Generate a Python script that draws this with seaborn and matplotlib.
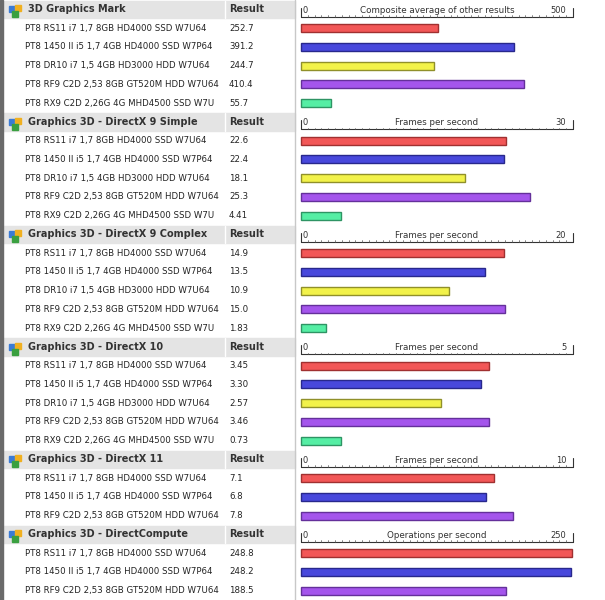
import numpy as np
import pandas as pd
import matplotlib
matplotlib.use("Agg")
import matplotlib.pyplot as plt
import seaborn as sns
from matplotlib.patches import Rectangle

sns.set_theme(style="white")
plt.rcParams["font.family"] = ["DejaVu Sans"]

sections = ["3D Graphics Mark", "Graphics 3D - DirectX 9 Simple", "Graphics 3D - DirectX 9 Complex",
            "Graphics 3D - DirectX 10", "Graphics 3D - DirectX 11", "Graphics 3D - DirectCompute"]
units = ["Composite average of other results", "Frames per second", "Frames per second",
         "Frames per second", "Frames per second", "Operations per second"]
axis_max = [500, 30, 20, 5, 10, 250]

machines = ["PT8 RS11 i7 1,7 8GB HD4000 SSD W7U64",
            "PT8 1450 II i5 1,7 4GB HD4000 SSD W7P64",
            "PT8 DR10 i7 1,5 4GB HD3000 HDD W7U64",
            "PT8 RF9 C2D 2,53 8GB GT520M HDD W7U64",
            "PT8 RX9 C2D 2,26G 4G MHD4500 SSD W7U"]
machine_colors = ["#f25757", "#4848dc", "#f2f24a", "#a455ec", "#55eea4"]
machine_edges = ["#a03030", "#28288c", "#90902a", "#64309a", "#2e9464"]

members = [[0, 1, 2, 3, 4], [0, 1, 2, 3, 4], [0, 1, 2, 3, 4], [0, 1, 2, 3, 4], [0, 1, 3], [0, 1, 3]]
results = [["252.7", "391.2", "244.7", "410.4", "55.7"],
           ["22.6", "22.4", "18.1", "25.3", "4.41"],
           ["14.9", "13.5", "10.9", "15.0", "1.83"],
           ["3.45", "3.30", "2.57", "3.46", "0.73"],
           ["7.1", "6.8", "7.8"],
           ["248.8", "248.2", "188.5"]]

W, H = 605, 600
fig = plt.figure(figsize=(W / 100, H / 100), dpi=100)
bg = fig.add_axes([0, 0, 1, 1])
bg.set_xlim(0, W)
bg.set_ylim(H, 0)
bg.axis("off")

pitch = H / 32
x0_px, xmax_px, bar_left, bar_right = 301, 573, 297, 600
y = 0.0
for s, name in enumerate(sections):
    n = len(members[s])
    top = y
    # header row
    bg.add_patch(Rectangle((3, y + 0.5), 292, pitch - 1, color="#e4e4e4", zorder=1))
    bg.plot([225, 225], [y + 0.5, y + pitch - 0.5], color="#ffffff", lw=1, zorder=2)
    for (dx, dy, c) in [(9, 6, "#3a7bd5"), (15, 5, "#f0b020"), (12, 11, "#3aa040")]:
        bg.add_patch(Rectangle((dx, y + dy), 6, 6, color=c, zorder=3))
    bg.text(28, y + pitch / 2, name, fontsize=7, fontweight="semibold", color="#333333", va="center", zorder=3)
    bg.text(229, y + pitch / 2, "Result", fontsize=7, fontweight="semibold", color="#333333", va="center", zorder=3)
    for i in range(n):
        yc = y + pitch * (i + 1.5)
        bg.text(25, yc, machines[members[s][i]], fontsize=6.2, color="#222222", va="center")
        bg.text(229, yc, results[s][i], fontsize=6.2, color="#222222", va="center")
    y += pitch * (n + 1)

    # bar axes for this section
    ax = fig.add_axes([bar_left / W, 1 - y / H, (bar_right - bar_left) / W, (y - top) / H])
    m = axis_max[s]
    scale = m / (xmax_px - x0_px)
    ax.set_xlim(-(x0_px - bar_left) * scale, (bar_right - x0_px) * scale)
    df = pd.DataFrame({
        "machine": [machines[k] for k in members[s]],
        "value": [float(v) for v in results[s]],
    })
    pal = {machines[k]: machine_colors[k] for k in members[s]}
    sns.barplot(data=df, x="value", y="machine", hue="machine", palette=pal, orient="h",
                order=df["machine"], width=0.42, legend=False, ax=ax, saturation=1,
                linewidth=1)
    for patch, k in zip(ax.patches, members[s]):
        patch.set_edgecolor(machine_edges[k])
    ax.set_ylim(n - 0.5, -1.5)
    ax.axis("off")
    # ruler along bottom of header row
    ry = -0.6
    ax.plot([0, m], [ry, ry], color="#333333", lw=0.8)
    for t in np.linspace(0, m, 41):
        ax.plot([t, t], [ry, ry - 0.08], color="#555555", lw=0.5)
    for t in [0, m]:
        ax.plot([t, t], [ry, ry - 0.5], color="#333333", lw=0.8)
    ax.text(0.005 * m, ry - 0.12, "0", fontsize=6, color="#333333", va="bottom")
    ax.text(0.975 * m, ry - 0.12, f"{m}", fontsize=6, color="#333333", va="bottom", ha="right")
    ax.text(0.5 * m, ry - 0.12, units[s], fontsize=6.3, color="#333333", va="bottom", ha="center")

bg.add_patch(Rectangle((0, 0), 3, H, color="#6a6a6a", zorder=4))
bg.plot([295, 295], [0, H], color="#c8c8c8", lw=1, zorder=4)

fig.savefig("out.png", dpi=100)
